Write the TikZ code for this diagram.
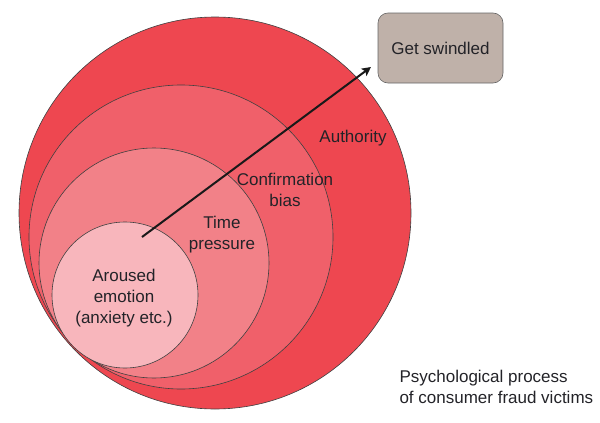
\documentclass[tikz,border=0pt]{standalone}
\usepackage{fontspec}
\setmainfont{Liberation Sans}
\usetikzlibrary{positioning, arrows.meta}
\definecolor{layerone}{RGB}{238, 71, 80}
\definecolor{layertwo}{RGB}{240, 96, 106}
\definecolor{layerthree}{RGB}{242, 129, 136}
\definecolor{layerfour}{RGB}{248, 182, 188}
\definecolor{boxgray}{RGB}{191, 177, 169}
\definecolor{inkgray}{RGB}{35, 35, 40}

\begin{document}
\begin{tikzpicture}[x=1pt, y=-1pt, >=Stealth,
    font=\fontsize{17}{21}\selectfont, text=inkgray]
  \useasboundingbox (0,0) rectangle (600,423);
  % Nested layers
  \draw[fill=layerone, draw=black!75, line width=0.6pt] (215,213) circle[radius=196];
  \draw[fill=layertwo, draw=black!75, line width=0.6pt] (181,237) circle[radius=152];
  \draw[fill=layerthree, draw=black!75, line width=0.6pt] (154,263) circle[radius=115];
  \draw[fill=layerfour, draw=black!75, line width=0.6pt] (125,295) circle[radius=73];
  % Labels
  \node[align=center] (emotion) at (124,298) {Aroused\\emotion\\(anxiety etc.)};
  \node[align=center] (pressure) at (222,235) {Time\\pressure};
  \node[align=center] (bias) at (285,190) {Confirmation\\bias};
  \node (authority) at (353,138) {Authority};
  % Outcome
  \node[draw=black!60, fill=boxgray, rounded corners=10pt, line width=0.6pt,
        minimum width=125pt, minimum height=70pt] (swindled) at (440.5,48) {Get swindled};
  \coordinate (start) at (142,237);
  \coordinate (tip) at (371,67);
  \draw[-{Stealth[length=9pt, width=9pt, inset=2pt]}, line width=2pt, black!90] (start) -- (tip);
  % Caption
  \node[align=left, anchor=west] (caption) at (396,387)
        {Psychological process\\of consumer fraud victims};
\end{tikzpicture}
\end{document}
